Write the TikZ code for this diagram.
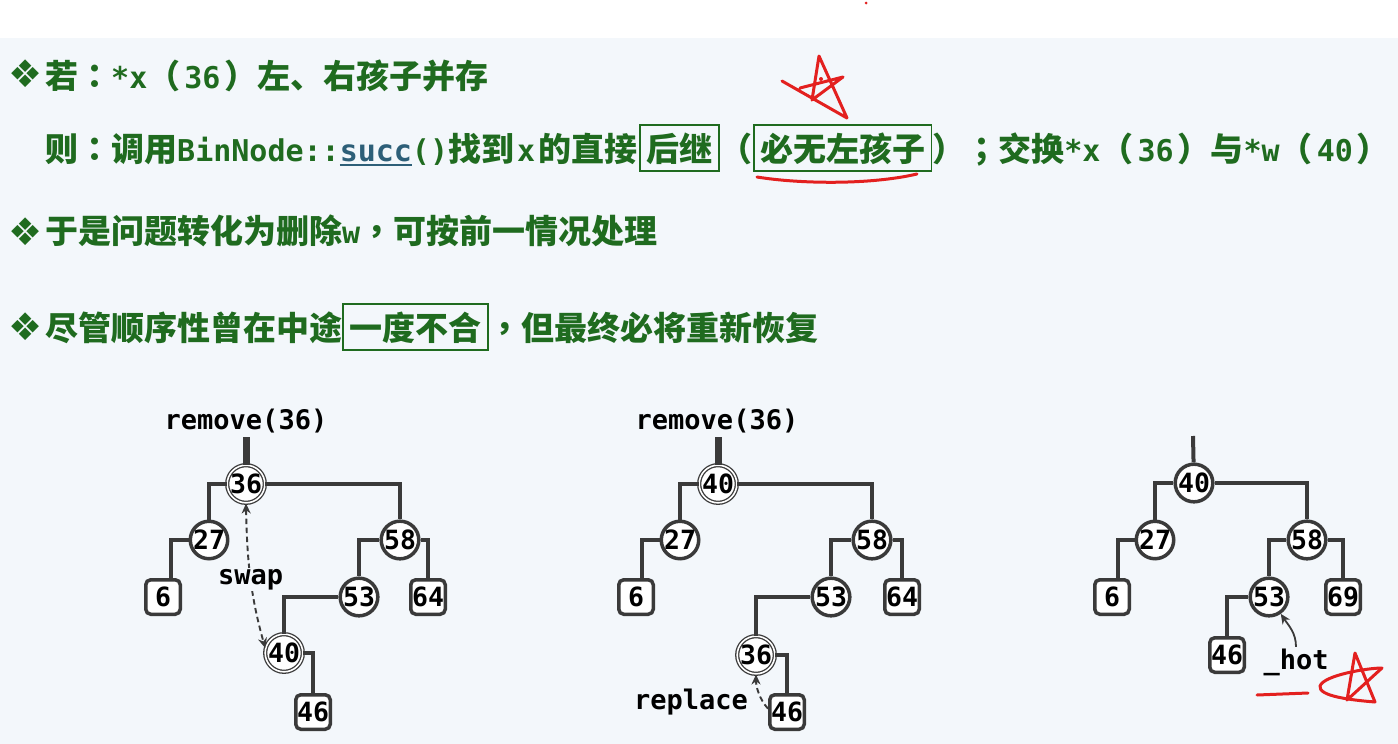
\documentclass[tikz,border=0pt]{standalone}
\usepackage{fontspec}
\usetikzlibrary{arrows.meta}
\newfontfamily\zhf{Noto Sans CJK SC}
\newfontfamily\zhpf{Noto Sans CJK TC}
\newfontfamily\mnf{DejaVu Sans Mono}
\newfontfamily\symf{DejaVu Sans}
\definecolor{bgc}{HTML}{F3F7FB}
\definecolor{tg}{HTML}{1F6B1F}
\definecolor{ed}{HTML}{3A3A3A}
\definecolor{rd}{HTML}{E3201F}
\definecolor{sc}{HTML}{2D5F78}
\newcommand\zhT[1]{{\zhf\bfseries\fontsize{33}{38}\selectfont #1}}
\newcommand\pT[1]{{\zhpf\bfseries\fontsize{33}{38}\selectfont #1}}
\newcommand\mnT[1]{{\mnf\bfseries\fontsize{30}{36}\selectfont #1}}
\newcommand\parT[1]{\pT{（}\hspace{4pt}\mnT{#1}\hspace{4pt}\pT{）}}
\newcommand\ulT[1]{\setbox0\hbox{#1}\rlap{\rule[-5pt]{\wd0}{2pt}}\box0}
\newcommand\gboxT[1]{{\setlength\fboxsep{0pt}\setlength\fboxrule{1.8pt}\fcolorbox{tg}{bgc}{\hspace{5.5pt}\rule[-9.2pt]{0pt}{44.4pt}\zhT{#1}\hspace{5.5pt}}}}
\newcommand\nodef{\mnf\bfseries\fontsize{26.5}{30}\selectfont}
\newcommand\labf{\mnf\bfseries\fontsize{27}{32}\selectfont}
\begin{document}
\begin{tikzpicture}[x=1pt,y=-1pt,
  cn/.style={circle,draw=ed,line width=3.5pt,fill=white,minimum size=36.5pt,inner sep=0pt,font=\nodef},
  dn/.style={circle,draw=ed,line width=1.3pt,double=white,double distance=1.6pt,fill=white,minimum size=37pt,inner sep=0pt,font=\nodef},
  bx/.style={rectangle,rounded corners=5pt,draw=ed,line width=3.5pt,fill=white,minimum size=34.5pt,inner sep=0pt,font=\nodef},
  edge/.style={draw=ed,line width=4pt},
  bar/.style={draw=ed,line width=7pt},
  lab/.style={font=\labf,inner sep=1.5pt},
  dsh/.style={draw=ed,line width=1.9pt,dash pattern=on 5.5pt off 3.5pt},
  tipA/.style={-{Stealth[length=10pt,width=9pt]}},
  tipB/.style={{Stealth[length=10pt,width=9pt]}-{Stealth[length=10pt,width=9pt]}},
  txt/.style={anchor=base west,inner sep=0pt,text=tg},
  dia/.style={inner sep=0pt,text=tg,font=\symf\fontsize{38}{42}\selectfont},
  redl/.style={draw=rd,line width=3pt,line cap=round,line join=round}]
\useasboundingbox (0,0) rectangle (1398,744);
\fill[white] (0,0) rectangle (1398,38);
\fill[bgc] (0,38) rectangle (1398,744);
\fill[rd] (866,3) circle (1.5);

% ---- text lines ----
\node[dia] (d1) at (26,74) {❖};
\node[txt] (l1) at (45,88) {\zhT{若}\pT{：}\mnT{*x}\parT{36}\zhT{左、右孩子并存}};
\node[txt] (l2) at (45,161) {\zhT{则}\pT{：}\zhT{调用}\mnT{BinNode::{\color{sc}\ulT{succ}}()}\zhT{找到}\hspace{3pt}\mnT{x}\hspace{3pt}\zhT{的直接}\hspace{2pt}\gboxT{后继}\pT{（}\gboxT{必无左孩子}\pT{）；}\zhT{交换}\mnT{*x}\parT{36}\zhT{与}\mnT{*w}\parT{40}};
\node[dia] (d3) at (26,232) {❖};
\node[txt] (l3) at (45,243) {\zhT{于是问题转化为删除}\mnT{w}\pT{，}\zhT{可按前一情况处理}};
\node[dia] (d4) at (26,327) {❖};
\node[txt] (l4) at (45,340) {\zhT{尽管顺序性曾在中途}\gboxT{一度不合}\pT{，}\zhT{但最终必将重新恢复}};

% red marks near line 2
\draw[redl] (782,81) -- (847,118) -- (819,56) -- (812,100) -- (843,77) -- (800,88);
\fill[rd] (821,79) circle (2);
\draw[redl] (757,177) .. controls (800,184) and (870,185) .. (917,174);

% ---- tree 1 ----
\node[lab] (r1) at (246,421) {remove(36)};
\coordinate (t1top) at (246,437);
\node[dn] (t1a) at (246,484) {36};
\node[cn] (t1b) at (209,540) {27};
\node[cn] (t1c) at (400,540) {58};
\node[bx] (t1f) at (163,597) {6};
\node[cn] (t1d) at (359,597) {53};
\node[bx] (t1g) at (428,597) {64};
\node[dn] (t1e) at (284,653) {40};
\node[bx] (t1h) at (313,712) {46};
\draw[bar] (t1top) -- (t1a);
\draw[edge] (t1a) -| (t1b);
\draw[edge] (t1a) -| (t1c);
\draw[edge] (t1b) -| ([xshift=8pt]t1f.north);
\draw[edge] (t1c) -| (t1d);
\draw[edge] (t1c) -| (t1g);
\draw[edge] (t1d) -| (t1e);
\draw[edge] (t1e) -| (t1h);
\draw[dsh,tipB] (t1a.south) .. controls +(1,60) and +(-14,-50) .. node[lab,fill=bgc,pos=0.5] (sw) {swap} (t1e.165);

% ---- tree 2 ----
\node[lab] (r2) at (717,421) {remove(36)};
\coordinate (t2top) at (718,437);
\node[dn] (t2a) at (718,484) {40};
\node[cn] (t2b) at (680,540) {27};
\node[cn] (t2c) at (872,540) {58};
\node[bx] (t2f) at (636,597) {6};
\node[cn] (t2d) at (831,597) {53};
\node[bx] (t2g) at (902,597) {64};
\node[dn] (t2e) at (756,655) {36};
\node[bx] (t2h) at (787,712) {46};
\draw[bar] (t2top) -- (t2a);
\draw[edge] (t2a) -| (t2b);
\draw[edge] (t2a) -| (t2c);
\draw[edge] (t2b) -| ([xshift=6pt]t2f.north);
\draw[edge] (t2c) -| (t2d);
\draw[edge] (t2c) -| (t2g);
\draw[edge] (t2d) -| (t2e);
\draw[edge] (t2e) -| (t2h);
\node[lab] (rp) at (691,702) {replace};
\draw[dsh,tipA] (t2h.170) .. controls +(-9,-10) and +(0,12) .. (t2e.south);

% ---- tree 3 ----
\coordinate (t3top) at (1193,436);
\node[cn] (t3a) at (1194,483) {40};
\node[cn] (t3b) at (1155,540) {27};
\node[cn] (t3c) at (1307,540) {58};
\node[bx] (t3f) at (1112,597) {6};
\node[cn] (t3d) at (1269,597) {53};
\node[bx] (t3g) at (1343,597) {69};
\node[bx] (t3h) at (1227,655) {46};
\draw[edge] (t3top) -- (t3a);
\draw[edge] (t3a) -| (t3b);
\draw[edge] (t3a) -| (t3c);
\draw[edge] (t3b) -| ([xshift=6pt]t3f.north);
\draw[edge] (t3c) -| (t3d);
\draw[edge] (t3c) -| (t3g);
\draw[edge] (t3d) -| (t3h);
\node[lab] (hot) at (1296,662) {\_hot};
\draw[draw=ed,line width=1.8pt,tipA] (hot.north) .. controls +(0,-14) and +(8,12) .. (t3d.-55);

% red marks near _hot
\draw[redl] (1257,695) -- (1308,693);
\draw[redl] (1347,700) -- (1355,653) -- (1375,702) .. controls (1350,700) and (1318,696) .. (1320,686) .. controls (1324,675) and (1368,668) .. (1382,668) -- (1347,700);
\end{tikzpicture}
\end{document}
